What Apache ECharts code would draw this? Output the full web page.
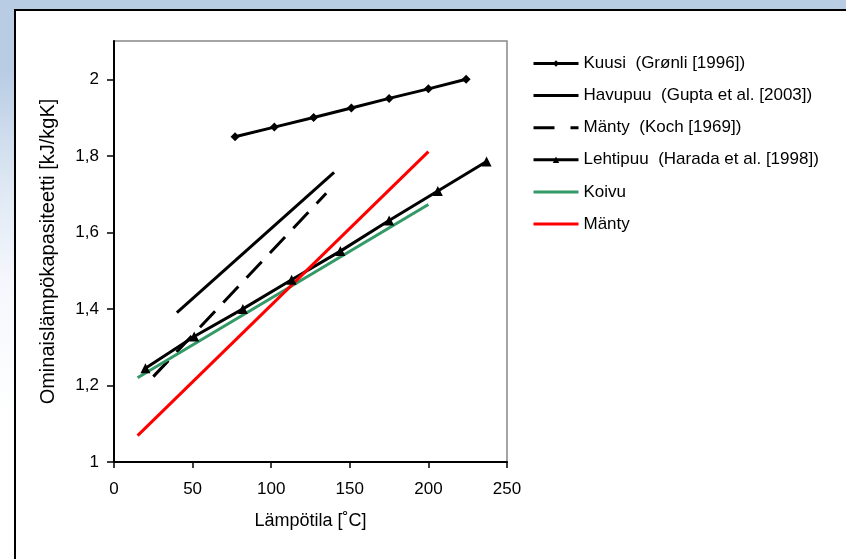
<!DOCTYPE html>
<html>
<head>
<meta charset="utf-8">
<script src="https://cdn.jsdelivr.net/npm/echarts@6/dist/echarts.min.js"></script>
<style>
  html, body { margin: 0; padding: 0; width: 846px; height: 559px; overflow: hidden; }
  body { background: linear-gradient(to bottom, #b8cce4 0px, #b8cce4 70px, #dde7f3 180px, #f4f7fc 280px, #ffffff 420px); position: relative; }
  #panel { position: absolute; left: 14px; top: 9px; width: 900px; height: 600px; background: #ffffff; border-left: 2px solid #000; border-top: 2px solid #000; }
  #chart { position: absolute; left: 0; top: 0; width: 846px; height: 559px; }
</style>
</head>
<body>
<div id="panel"></div>
<div id="chart"></div>
<script>
// ---- data ----
const seriesNames = ['Kuusi  (Grønli [1996])', 'Havupuu  (Gupta et al. [2003])', 'Mänty  (Koch [1969])', 'Lehtipuu  (Harada et al. [1998])', 'Koivu', 'Mänty'];

const kuusiX = [77, 102, 127, 151, 175, 200, 224];
const kuusiY = [1.85, 1.875, 1.90, 1.925, 1.95, 1.975, 2.0];

const havupuuX = [40, 140];
const havupuuY = [1.39, 1.757];

const kochX = [25, 135];
const kochY = [1.223, 1.702];

const lehtipuuX = [20, 51, 82, 113, 144, 175, 206, 237];
const lehtipuuY = [1.245, 1.328, 1.40, 1.476, 1.551, 1.631, 1.708, 1.785];

const koivuX = [15, 200];
const koivuY = [1.22, 1.673];

const mantyX = [15, 200];
const mantyY = [1.069, 1.811];

const yTicks = [1, 1.2, 1.4, 1.6, 1.8, 2];
const xTicks = [0, 50, 100, 150, 200, 250];

const xName = 'Lämpötila [˚C]';
const yName = 'Ominaislämpökapasiteetti [kJ/kgK]';

function pairs(xs, ys) { return xs.map((x, i) => [x, ys[i]]); }

const FONT = '"Liberation Sans", Arial, sans-serif';

// legend icon shapes (plain line and dashed line, as in the reference legend)
const solidIcon = 'path://M0,0H45V3H0Z';
const dashIcon = 'path://M0,0H21V3H0Z M37,0H45V3H37Z';

const chart = echarts.init(document.getElementById('chart'), null, { renderer: 'canvas' });

function lineSeries(name, xs, ys, color, extra) {
  return Object.assign({
    name: name,
    type: 'line',
    data: pairs(xs, ys),
    symbol: 'none',
    showSymbol: true,
    color: color,
    lineStyle: { color: color, width: 3 },
    itemStyle: { color: color },
    emphasis: { disabled: true },
    animation: false
  }, extra || {});
}

chart.setOption({
  backgroundColor: 'transparent',
  animation: false,
  textStyle: { fontFamily: FONT, color: '#000' },
  grid: {
    left: 114, right: 339, top: 41, bottom: 97,
    show: true, borderColor: '#888888', borderWidth: 1.5, backgroundColor: 'transparent'
  },
  legend: {
    orient: 'vertical',
    left: 532, top: 55, padding: 0,
    itemWidth: 45, itemHeight: 8, itemGap: 15.1,
    textStyle: { fontFamily: FONT, fontSize: 17, color: '#000' },
    data: [
      { name: seriesNames[0], lineStyle: { width: 3, color: '#000' } },
      { name: seriesNames[1], icon: solidIcon, itemStyle: { color: '#000', borderWidth: 0 } },
      { name: seriesNames[2], icon: dashIcon, itemStyle: { color: '#000', borderWidth: 0 } },
      { name: seriesNames[3], lineStyle: { width: 3, color: '#000' } },
      { name: seriesNames[4], icon: solidIcon, itemStyle: { color: '#339966', borderWidth: 0 } },
      { name: seriesNames[5], icon: solidIcon, itemStyle: { color: '#ff0000', borderWidth: 0 } }
    ],
    selectedMode: false
  },
  xAxis: {
    type: 'value', min: 0, max: 250, interval: 50,
    name: xName, nameLocation: 'middle', nameGap: 50,
    nameTextStyle: { fontFamily: FONT, fontSize: 18, color: '#000' },
    axisLine: { show: true, onZero: false, lineStyle: { color: '#000', width: 2 } },
    axisTick: { show: true, inside: false, length: 6, lineStyle: { color: '#000', width: 1.5 }, customValues: xTicks },
    axisLabel: { fontFamily: FONT, fontSize: 17, color: '#000', margin: 19, customValues: xTicks },
    splitLine: { show: false }
  },
  yAxis: {
    type: 'value', min: 1, max: 2.1, interval: 0.2,
    name: yName, nameLocation: 'middle', nameGap: 56, nameRotate: 90,
    nameTextStyle: { fontFamily: FONT, fontSize: 20, color: '#000' },
    axisLine: { show: true, onZero: false, lineStyle: { color: '#000', width: 2 } },
    axisTick: { show: true, inside: false, length: 7, lineStyle: { color: '#000', width: 1.5 }, customValues: yTicks },
    axisLabel: {
      fontFamily: FONT, fontSize: 17, color: '#000', margin: 15, customValues: yTicks,
      formatter: v => String(Math.round(v * 10) / 10).replace('.', ',')
    },
    splitLine: { show: false }
  },
  series: [
    lineSeries(seriesNames[0], kuusiX, kuusiY, '#000000', { symbol: 'diamond', symbolSize: 9 }),
    lineSeries(seriesNames[1], havupuuX, havupuuY, '#000000'),
    lineSeries(seriesNames[2], kochX, kochY, '#000000', { lineStyle: { color: '#000000', width: 3, type: [22, 12], cap: 'butt' } }),
    lineSeries(seriesNames[3], lehtipuuX, lehtipuuY, '#000000', { symbol: 'triangle', symbolSize: 10 }),
    lineSeries(seriesNames[4], koivuX, koivuY, '#339966'),
    lineSeries(seriesNames[5], mantyX, mantyY, '#ff0000')
  ]
});
</script>
</body>
</html>
